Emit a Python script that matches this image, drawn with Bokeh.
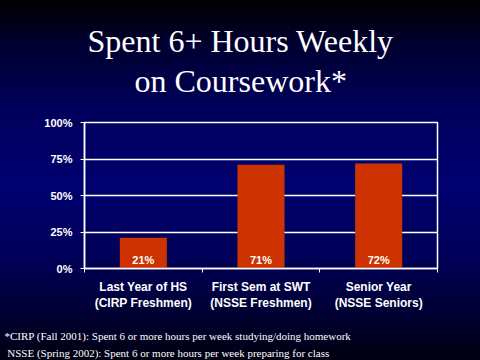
from bokeh.plotting import figure
from bokeh.models import ColumnDataSource, FixedTicker, LabelSet, Title, Range1d
from bokeh.core.properties import value
from bokeh.embed import file_html
from bokeh.resources import INLINE

categories = ["Last Year of HS\n(CIRP Freshmen)", "First Sem at SWT\n(NSSE Freshmen)", "Senior Year\n(NSSE Seniors)"]
values = [21, 71, 72]
value_labels = ["21%", "71%", "72%"]
y_ticks = [0, 25, 50, 75, 100]
y_tick_labels = ["0%", "25%", "50%", "75%", "100%"]
title_lines = ["Spent 6+ Hours Weekly", "on Coursework*"]
footnotes = ["*CIRP (Fall 2001):  Spent 6 or more hours per week studying/doing homework",
             "\u00a0NSSE (Spring 2002):  Spent 6 or more hours per week preparing for class"]

xs = [i + 0.5 for i in range(len(categories))]
src = ColumnDataSource(dict(x=xs, top=values, lab=value_labels, zero=[0] * len(values)))

p = figure(width=480, height=360, output_backend="svg", toolbar_location=None,
           x_range=Range1d(0, len(categories)), y_range=Range1d(0, 100),
           min_border_left=84, min_border_right=43, min_border_top=122, min_border_bottom=92,
           frame_width=353, frame_height=146)
p.styles = {"background": "linear-gradient(to bottom, #000000 0%, #000030 12%, #00005c 30%, #000070 50%, #00005a 68%, #000030 85%, #000008 100%)"}
p.border_fill_color = None
p.background_fill_color = None
p.outline_line_color = "white"
p.outline_line_width = 1.5

p.vbar(x="x", top="top", bottom=0, width=0.4, source=src, fill_color="#cc3300", line_color=None)

p.xgrid.visible = False
p.ygrid.grid_line_color = "white"
p.ygrid.grid_line_width = 1.5
p.ygrid.ticker = FixedTicker(ticks=y_ticks)

ya = p.yaxis[0]
ya.ticker = FixedTicker(ticks=y_ticks)
ya.major_label_overrides = {t: l for t, l in zip(y_ticks, y_tick_labels)}
ya.axis_line_color = "white"
ya.axis_line_width = 1.5
ya.major_tick_line_color = "white"
ya.major_tick_out = 4
ya.major_tick_in = 0
ya.minor_tick_line_color = None
ya.major_label_text_color = "white"
ya.major_label_text_font = "Liberation Sans"
ya.major_label_text_font_style = "bold"
ya.major_label_text_font_size = "11px"
ya.major_label_standoff = 8

xa = p.xaxis[0]
xa.ticker = FixedTicker(ticks=xs, minor_ticks=list(range(len(categories) + 1)))
xa.major_label_overrides = {x: c for x, c in zip(xs, categories)}
xa.axis_line_color = "white"
xa.axis_line_width = 1.5
xa.major_tick_line_color = None
xa.minor_tick_line_color = "white"
xa.minor_tick_out = 4
xa.minor_tick_in = 0
xa.major_label_text_color = "white"
xa.major_label_text_font = "Liberation Sans"
xa.major_label_text_font_style = "bold"
xa.major_label_text_font_size = "12px"
xa.major_label_standoff = 5

labels = LabelSet(x="x", y="zero", text="lab", source=src, text_align="center", text_baseline="middle",
                  y_offset=9, text_color="white", text_font=value("Liberation Sans"),
                  text_font_style="bold", text_font_size="11px")
p.add_layout(labels)

# spacer between the frame and the title (first item added sits closest to the frame)
p.add_layout(Title(text=" ", text_font_size="1px", standoff=21, text_color="white"), "above")
title_offsets = [3, 50]
title_standoffs = [4, 0]
for t, off, so in reversed(list(zip(title_lines, title_offsets, title_standoffs))):
    p.add_layout(Title(text=t, align="left", offset=off, text_color="white",
                       text_font="Liberation Serif", text_font_style="normal",
                       text_font_size="32px", standoff=so), "above")
p.add_layout(Title(text="\n".join(footnotes), align="left", offset=-80, text_color="white",
                   text_font="Liberation Serif", text_font_style="normal",
                   text_font_size="11px", text_line_height=1.44, standoff=29), "below")

html = file_html(p, INLINE)
html = html.replace("</head>", "<style>html, body { background: #000000; }</style></head>", 1)
open("out.html", "w").write(html)
